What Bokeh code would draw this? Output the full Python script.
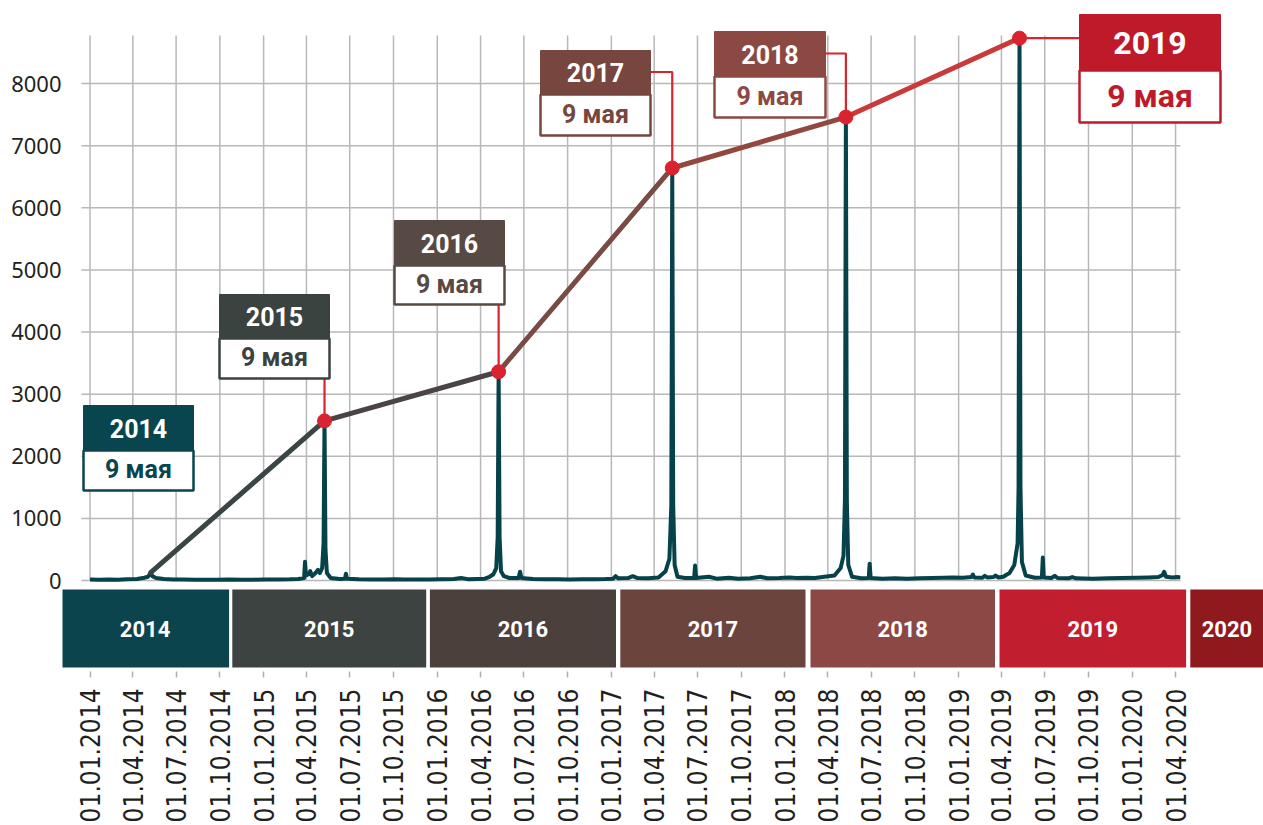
import math
import pandas as pd
from bokeh.plotting import figure
from bokeh.models import FixedTicker, DatetimeTickFormatter, Range1d
from bokeh.core.properties import value
from bokeh.embed import file_html
from bokeh.resources import INLINE

# ---------------- data ----------------
series_dates = [
    "2014-01-01", "2014-01-20", "2014-02-10", "2014-03-01", "2014-03-20", "2014-04-10", "2014-04-25",
    "2014-05-03", "2014-05-09", "2014-05-12", "2014-05-20", "2014-06-05", "2014-06-25", "2014-07-15",
    "2014-08-10", "2014-09-01", "2014-09-25", "2014-10-20", "2014-11-15", "2014-12-10",
    "2015-01-05", "2015-02-01", "2015-02-25", "2015-03-15", "2015-03-27", "2015-03-29", "2015-03-31",
    "2015-04-06", "2015-04-09", "2015-04-13", "2015-04-20", "2015-04-25", "2015-04-29", "2015-05-04",
    "2015-05-07", "2015-05-09", "2015-05-11", "2015-05-14", "2015-05-22", "2015-06-10", "2015-06-21",
    "2015-06-23", "2015-06-25", "2015-07-20", "2015-08-15", "2015-09-10", "2015-10-05", "2015-10-25",
    "2015-11-20", "2015-12-15",
    "2016-01-10", "2016-02-05", "2016-02-20", "2016-03-05", "2016-03-25", "2016-04-10", "2016-04-20",
    "2016-04-28", "2016-05-04", "2016-05-07", "2016-05-09", "2016-05-11", "2016-05-14", "2016-05-20",
    "2016-06-01", "2016-06-20", "2016-06-23", "2016-06-26", "2016-07-20", "2016-08-15", "2016-09-10",
    "2016-10-05", "2016-11-01", "2016-11-25", "2016-12-20",
    "2017-01-05", "2017-01-10", "2017-01-15", "2017-02-05", "2017-02-15", "2017-02-25", "2017-03-20",
    "2017-04-10", "2017-04-25", "2017-05-03", "2017-05-07", "2017-05-09", "2017-05-11", "2017-05-14",
    "2017-05-20", "2017-06-05", "2017-06-24", "2017-06-26", "2017-06-28", "2017-07-25", "2017-08-10",
    "2017-09-05", "2017-09-25", "2017-10-20", "2017-11-10", "2017-11-25", "2017-12-20",
    "2018-01-10", "2018-01-25", "2018-02-15", "2018-03-05", "2018-03-25", "2018-04-15", "2018-04-28",
    "2018-05-04", "2018-05-07", "2018-05-09", "2018-05-11", "2018-05-14", "2018-05-22", "2018-06-10",
    "2018-06-26", "2018-06-28", "2018-06-30", "2018-07-25", "2018-08-20", "2018-09-15", "2018-10-10",
    "2018-11-05", "2018-11-30", "2018-12-20",
    "2019-01-10", "2019-01-28", "2019-01-31", "2019-02-03", "2019-02-20", "2019-02-25", "2019-03-02",
    "2019-03-15", "2019-03-20", "2019-03-25", "2019-04-05", "2019-04-10", "2019-04-18", "2019-04-28",
    "2019-05-05", "2019-05-07", "2019-05-09", "2019-05-11", "2019-05-14", "2019-05-22", "2019-06-10",
    "2019-06-25", "2019-06-27", "2019-06-29", "2019-07-15", "2019-07-22", "2019-07-28", "2019-08-20",
    "2019-08-28", "2019-09-05", "2019-10-10", "2019-11-10", "2019-12-10",
    "2020-01-10", "2020-02-05", "2020-02-25", "2020-03-05", "2020-03-08", "2020-03-12", "2020-03-25",
    "2020-04-05", "2020-04-11",
]
series_values = [
    15, 12, 18, 14, 20, 25, 45,
    60, 130, 70, 40, 25, 18, 15,
    12, 14, 12, 15, 12, 14,
    15, 18, 20, 25, 40, 300, 80,
    100, 150, 70, 120, 170, 120, 200,
    600, 2570, 500, 120, 40, 25, 30,
    110, 30, 20, 18, 15, 22, 18,
    15, 18,
    20, 25, 40, 22, 25, 30, 60,
    100, 200, 700, 3360, 700, 150, 70,
    40, 40, 140, 40, 25, 20, 22,
    18, 20, 22, 25,
    30, 70, 35, 40, 70, 40, 35,
    50, 150, 350, 1200, 6640, 1200, 250,
    60, 40, 40, 240, 40, 60, 30,
    45, 30, 35, 60, 35, 40,
    50, 40, 45, 40, 60, 80, 200,
    400, 1300, 7460, 1300, 250, 60, 35,
    40, 270, 40, 30, 35, 30, 35,
    40, 45, 50,
    45, 55, 95, 50, 45, 75, 50,
    55, 80, 50, 60, 85, 120, 250,
    600, 1500, 8730, 1500, 300, 80, 45,
    50, 370, 50, 40, 75, 40, 35,
    55, 35, 30, 35, 40,
    45, 50, 55, 90, 140, 60, 50,
    55, 50,
]

peak_years = ["2014", "2015", "2016", "2017", "2018", "2019"]
peak_dates = ["2014-05-09", "2015-05-09", "2016-05-09", "2017-05-09", "2018-05-09", "2019-05-09"]
peak_values = [130, 2570, 3360, 6640, 7460, 8730]
peak_caption = "9 мая"

band_years = ["2014", "2015", "2016", "2017", "2018", "2019", "2020"]

y_ticks = [0, 1000, 2000, 3000, 4000, 5000, 6000, 7000, 8000]
x_tick_dates = [
    "2014-01-01", "2014-04-01", "2014-07-01", "2014-10-01",
    "2015-01-01", "2015-04-01", "2015-07-01", "2015-10-01",
    "2016-01-01", "2016-04-01", "2016-07-01", "2016-10-01",
    "2017-01-01", "2017-04-01", "2017-07-01", "2017-10-01",
    "2018-01-01", "2018-04-01", "2018-07-01", "2018-10-01",
    "2019-01-01", "2019-04-01", "2019-07-01", "2019-10-01",
    "2020-01-01", "2020-04-01",
]

# ---------------- layout / style ----------------
BASE = pd.Timestamp("2014-01-01")
X0_PX, PX_PER_DAY = 89.5, 0.4757        # page px of 2014-01-01, px per day
Y0_PX, PX_PER_UNIT = 580.0, 0.062125    # page px of value 0, px per unit
FRAME_L, FRAME_R, FRAME_T, FRAME_B = 62, 1263, 10, 671


def px2date(px):
    return BASE + pd.Timedelta(days=(px - X0_PX) / PX_PER_DAY)


def px2val(py):
    return (Y0_PX - py) / PX_PER_UNIT


TEAL = "#054249"
RED = "#d9232e"
GRID = "#b8b8b8"
TXT = "#231f20"
box_colors = ["#09454e", "#3b4341", "#574943", "#76463f", "#8c4944", "#be1a2a"]
seg_colors = ["#3b4545", "#4a4444", "#7a4a44", "#93483f", "#c93a3b"]
band_colors = ["#0b444c", "#3c4340", "#4c403c", "#6b443e", "#8b4845", "#c11f30", "#8e1a1e"]

# box geometry in page px: left, right, header top, divider, bottom
box_px = [
    (83, 193, 405, 450, 490),
    (219, 329, 294, 338, 378),
    (394, 504, 220, 265, 304),
    (540, 650, 50, 94, 135),
    (714, 825, 31, 76, 117),
    (1079, 1220, 14, 70, 122),
]
box_font = ["25px", "25px", "25px", "25px", "25px", "32px"]
band_px = [(60.5, 228.6), (231.8, 425.7), (429.4, 615.5), (619.8, 805.0),
           (810.0, 994.5), (999.0, 1185.6), (1189.8, 1275.0)]
BAND_TOP, BAND_BOT = 589, 667

p = figure(width=1263, height=825, output_backend="svg", toolbar_location=None,
           x_axis_type="datetime",
           x_range=Range1d(px2date(FRAME_L), px2date(FRAME_R)),
           y_range=Range1d(px2val(FRAME_B), px2val(FRAME_T)),
           min_border_left=FRAME_L, min_border_right=0, min_border_top=FRAME_T,
           min_border_bottom=0)
p.outline_line_color = None
p.xgrid.grid_line_color = None
p.ygrid.grid_line_color = None
p.background_fill_color = "white"
p.border_fill_color = "white"

pd_dates = pd.to_datetime(series_dates)
pk_dates = pd.to_datetime(peak_dates)
tick_dates = pd.to_datetime(x_tick_dates)

# grid lines drawn from the tick values
grid_top = px2val(35)
p.segment(x0=list(tick_dates), y0=[0] * len(tick_dates), x1=list(tick_dates),
          y1=[grid_top] * len(tick_dates), line_color=GRID, line_width=1.5)
p.segment(x0=[px2date(81)] * len(y_ticks), y0=y_ticks, x1=[px2date(1180)] * len(y_ticks),
          y1=y_ticks, line_color=GRID, line_width=1.5)

# daily series
p.line(pd_dates, series_values, line_color=TEAL, line_width=4, line_join="round")

# peak-to-peak line
p.segment(x0=list(pk_dates[:-1]), y0=peak_values[:-1], x1=list(pk_dates[1:]), y1=peak_values[1:],
          line_color=seg_colors, line_width=5, line_cap="round")

# connectors
conn_xs, conn_ys = [], []
for i in range(1, 6):
    l, r, t, m, b = box_px[i]
    d, v = pk_dates[i], peak_values[i]
    if i in (1, 2):
        conn_xs.append([d, d]); conn_ys.append([v, px2val(b)])
    elif i in (3, 4):
        elbow = (t + m) / 2 - 0.5
        conn_xs.append([d, d, px2date(r)]); conn_ys.append([v, px2val(elbow), px2val(elbow)])
    else:
        conn_xs.append([d, px2date(l)]); conn_ys.append([v, v])
p.multi_line(conn_xs, conn_ys, line_color=RED, line_width=2.2)
p.scatter(list(pk_dates[1:]), peak_values[1:], size=14, color=RED)

# label boxes
lefts = [px2date(b[0]) for b in box_px]
rights = [px2date(b[1]) for b in box_px]
p.quad(left=lefts, right=rights, top=[px2val(b[3]) for b in box_px],
       bottom=[px2val(b[4]) for b in box_px], fill_color="white",
       line_color=box_colors, line_width=2.5)
p.quad(left=lefts, right=rights, top=[px2val(b[2]) for b in box_px],
       bottom=[px2val(b[3]) for b in box_px], fill_color=box_colors,
       line_color=box_colors, line_width=1)
cx = [px2date((b[0] + b[1]) / 2) for b in box_px]
p.text(x=cx, y=[px2val((b[2] + b[3]) / 2) for b in box_px], text=peak_years,
       text_font=value("Roboto"), text_font_style="bold", text_font_size=box_font,
       text_color="white", text_align="center", text_baseline="middle")
p.text(x=cx, y=[px2val((b[3] + b[4]) / 2 - 1) for b in box_px], text=[peak_caption] * 6,
       text_font=value("Roboto"), text_font_style="bold", text_font_size=box_font,
       text_color=box_colors, text_align="center", text_baseline="middle")

# year bands
p.quad(left=[px2date(b[0]) for b in band_px], right=[px2date(b[1]) for b in band_px],
       top=[px2val(BAND_TOP)] * 7, bottom=[px2val(BAND_BOT)] * 7,
       fill_color=band_colors, line_color=None)
p.text(x=[px2date((b[0] + min(b[1], FRAME_R)) / 2) for b in band_px],
       y=[px2val((BAND_TOP + BAND_BOT) / 2)] * 7, text=band_years,
       text_font=value("Roboto"), text_font_style="bold", text_font_size="22px",
       text_color="white", text_align="center", text_baseline="middle")

# axes
p.yaxis.ticker = FixedTicker(ticks=y_ticks)
p.yaxis.axis_line_color = None
p.yaxis.major_tick_line_color = None
p.yaxis.minor_tick_line_color = None
p.yaxis.major_tick_out = 0
p.yaxis.major_tick_in = 0
p.yaxis.major_label_standoff = 1
p.yaxis.major_label_text_font = "Noto Sans"
p.yaxis.major_label_text_font_size = "22px"
p.yaxis.major_label_text_color = TXT

p.xaxis.ticker = FixedTicker(ticks=[t.value / 1e6 for t in tick_dates])
fmt = "%d.%m.%Y"
p.xaxis.formatter = DatetimeTickFormatter(
    microseconds=fmt, milliseconds=fmt, seconds=fmt, minsec=fmt, minutes=fmt,
    hourmin=fmt, hours=fmt, days=fmt, months=fmt, years=fmt)
p.xaxis.major_label_orientation = math.pi / 2
p.xaxis.axis_line_color = None
p.xaxis.minor_tick_line_color = None
p.xaxis.major_tick_line_color = "#b0b0b0"
p.xaxis.major_tick_line_width = 1.5
p.xaxis.major_tick_out = 6
p.xaxis.major_tick_in = 0
p.xaxis.major_label_standoff = 11
p.xaxis.major_label_text_font = "DejaVu Sans Condensed, DejaVu Sans"
p.xaxis.major_label_text_font_size = "26px"
p.xaxis.major_label_text_color = TXT

open("out.html", "w").write(file_html(p, INLINE))
